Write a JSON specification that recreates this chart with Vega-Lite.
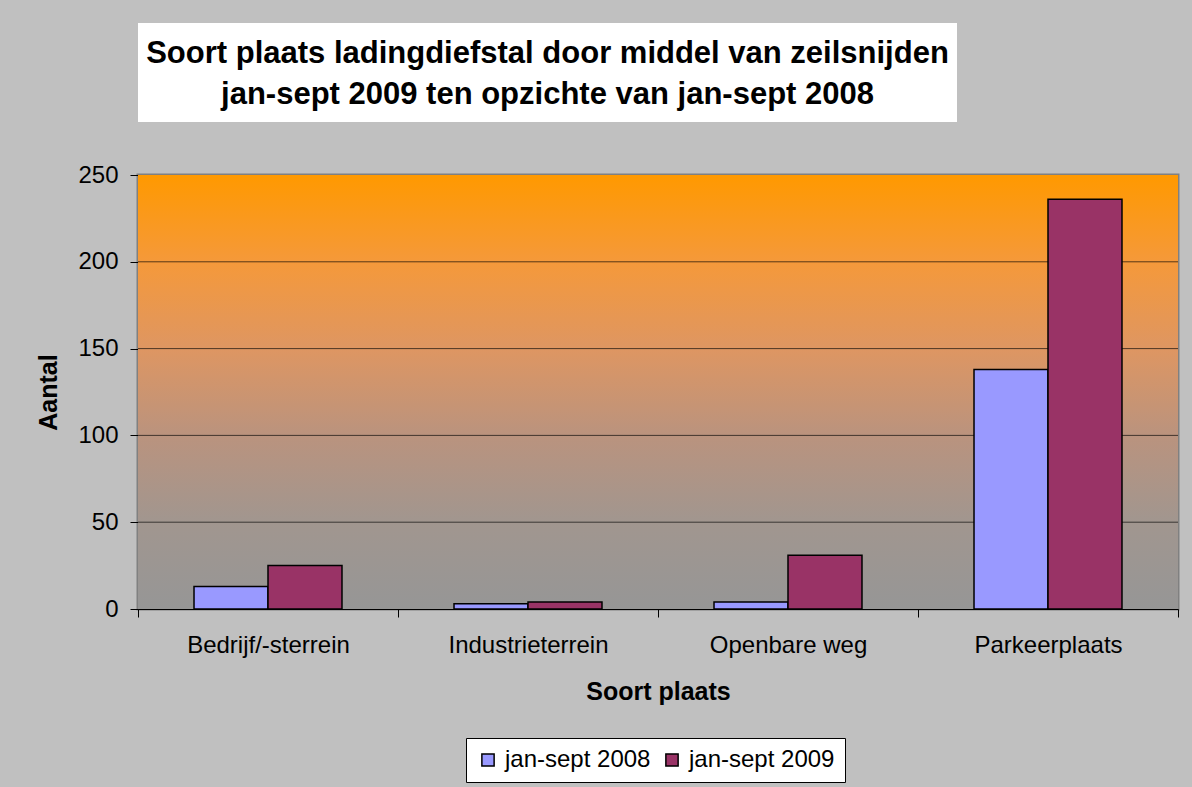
{
  "$schema": "https://vega.github.io/schema/vega-lite/v6.json",
  "background": "#C0C0C0",
  "autosize": {"type": "pad"},
  "padding": {"left": 35, "top": 23, "right": 14, "bottom": 4},
  "bounds": "flush",
  "spacing": 53,
  "config": {
    "font": "Liberation Sans",
    "axis": {
      "labelFont": "Liberation Sans",
      "titleFont": "Liberation Sans",
      "labelColor": "#000000",
      "titleColor": "#000000",
      "domainColor": "#000000",
      "tickColor": "#000000",
      "labelFontSize": 24,
      "titleFontSize": 25,
      "titleFontWeight": "bold",
      "tickSize": 8,
      "grid": false
    },
    "axisY": {"labelPadding": 12, "titlePadding": 16},
    "axisX": {"labelPadding": 16, "titlePadding": 22, "labelAngle": 0},
    "legend": {
      "labelFont": "Liberation Sans",
      "labelFontSize": 24,
      "labelColor": "#000000"
    }
  },
  "resolve": {"legend": {"color": "independent"}},
  "vconcat": [
    {
      "width": 819,
      "height": 99,
      "view": {"fill": "#FFFFFF", "stroke": null},
      "data": {
        "values": [
          {"i": 1, "t": "Soort plaats ladingdiefstal door middel van zeilsnijden"},
          {"i": 2, "t": "jan-sept 2009 ten opzichte van jan-sept 2008"}
        ]
      },
      "mark": {"type": "text", "font": "Liberation Sans", "fontSize": 31, "fontWeight": "bold", "color": "#000000", "align": "center", "baseline": "middle", "dy": 2},
      "encoding": {
        "y": {"field": "i", "type": "ordinal", "axis": null, "scale": {"type": "point", "padding": 0.707}},
        "text": {"field": "t", "type": "nominal"}
      }
    },
    {
      "width": 1040,
      "height": 434,
      "view": {"stroke": "#808080", "strokeWidth": 3},
      "layer": [
        {
          "data": {"values": [{"lo": 0, "hi": 250}]},
          "mark": {
            "type": "rect",
            "fill": {
              "gradient": "linear",
              "x1": 0, "y1": 0, "x2": 0, "y2": 1,
              "stops": [
                {"offset": 0, "color": "#FF9900"},
                {"offset": 0.2, "color": "#F5993A"},
                {"offset": 0.4, "color": "#DE9662"},
                {"offset": 0.6, "color": "#BA937E"},
                {"offset": 0.8, "color": "#A1968F"},
                {"offset": 1, "color": "#969696"}
              ]
            }
          },
          "encoding": {
            "y": {"field": "hi", "type": "quantitative", "title": "Aantal", "scale": {"domain": [0, 250], "nice": false}},
            "y2": {"field": "lo"}
          }
        },
        {
          "data": {"values": [{"v": 50}, {"v": 100}, {"v": 150}, {"v": 200}]},
          "mark": {"type": "rule", "color": "#000000", "opacity": 0.65, "strokeWidth": 1},
          "encoding": {
            "y": {"field": "v", "type": "quantitative", "title": "Aantal", "scale": {"domain": [0, 250], "nice": false}}
          }
        },
        {
          "data": {
            "values": [
              {"plaats": "Bedrijf/-sterrein", "periode": "jan-sept 2008", "aantal": 13},
              {"plaats": "Bedrijf/-sterrein", "periode": "jan-sept 2009", "aantal": 25},
              {"plaats": "Industrieterrein", "periode": "jan-sept 2008", "aantal": 3},
              {"plaats": "Industrieterrein", "periode": "jan-sept 2009", "aantal": 4},
              {"plaats": "Openbare weg", "periode": "jan-sept 2008", "aantal": 4},
              {"plaats": "Openbare weg", "periode": "jan-sept 2009", "aantal": 31},
              {"plaats": "Parkeerplaats", "periode": "jan-sept 2008", "aantal": 138},
              {"plaats": "Parkeerplaats", "periode": "jan-sept 2009", "aantal": 236}
            ]
          },
          "mark": {"type": "bar", "stroke": "#000000", "strokeWidth": 1.5},
          "encoding": {
            "x": {
              "field": "plaats", "type": "nominal", "sort": null, "title": "Soort plaats",
              "scale": {"paddingInner": 0, "paddingOuter": 0},
              "axis": {"tickBand": "extent"}
            },
            "xOffset": {
              "field": "periode", "type": "nominal",
              "scale": {"paddingInner": 0, "paddingOuter": 0.757}
            },
            "y": {
              "field": "aantal", "type": "quantitative", "title": "Aantal",
              "scale": {"domain": [0, 250], "nice": false},
              "axis": {"values": [0, 50, 100, 150, 200, 250]}
            },
            "color": {
              "field": "periode", "type": "nominal",
              "scale": {"domain": ["jan-sept 2008", "jan-sept 2009"], "range": ["#9999FF", "#993366"]},
              "legend": {
                "title": null,
                "orient": "none",
                "legendX": 328,
                "legendY": 563,
                "direction": "horizontal",
                "fillColor": "#FFFFFF",
                "strokeColor": "#000000",
                "padding": 10,
                "symbolType": "square",
                "symbolSize": 150,
                "symbolStrokeColor": "#000000",
                "symbolStrokeWidth": 1.5,
                "symbolOpacity": 1,
                "labelOffset": 5,
                "columnPadding": 9
              }
            }
          }
        }
      ]
    }
  ]
}
